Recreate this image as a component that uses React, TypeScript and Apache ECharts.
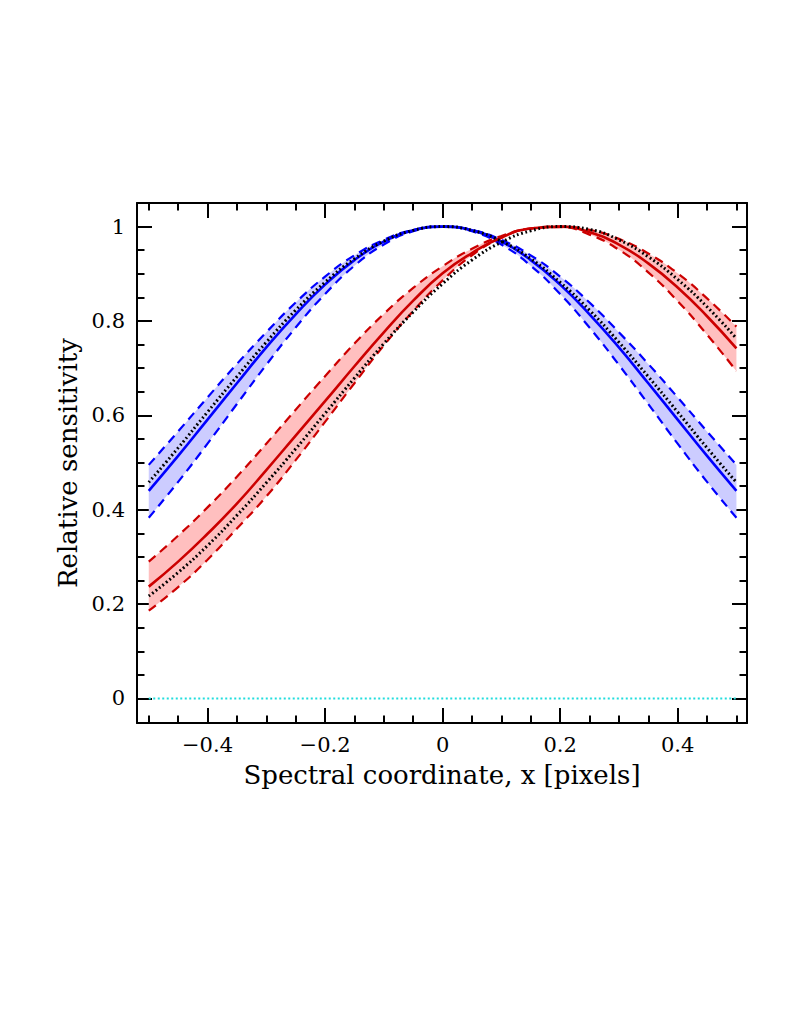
import React, { useEffect, useRef } from "react";
import * as echarts from "echarts";

// x positions of the samples (pixels)
const xs = [-0.5, -0.45, -0.4, -0.35, -0.3, -0.25, -0.2, -0.15, -0.1, -0.05, 0, 0.05, 0.1, 0.15, 0.2, 0.25, 0.3, 0.35, 0.4, 0.45, 0.5];

// Blue profile (centred at 0)
const blueMid = [0.440, 0.514, 0.591, 0.668, 0.744, 0.814, 0.877, 0.929, 0.968, 0.992, 1.000, 0.992, 0.968, 0.929, 0.877, 0.814, 0.744, 0.668, 0.591, 0.514, 0.440];
const blueHigh = [0.495, 0.566, 0.638, 0.709, 0.776, 0.839, 0.894, 0.939, 0.972, 0.993, 1.000, 0.993, 0.972, 0.939, 0.894, 0.839, 0.776, 0.709, 0.638, 0.566, 0.495];
const blueLow = [0.383, 0.459, 0.540, 0.624, 0.707, 0.786, 0.857, 0.917, 0.962, 0.990, 1.000, 0.990, 0.962, 0.917, 0.857, 0.786, 0.707, 0.624, 0.540, 0.459, 0.383];
const blueDotted = [0.458, 0.531, 0.607, 0.682, 0.755, 0.823, 0.882, 0.932, 0.969, 0.992, 1.000, 0.992, 0.969, 0.932, 0.882, 0.823, 0.755, 0.682, 0.607, 0.531, 0.458];

// Red profile (centred near 0.19)
const redMid = [0.237, 0.290, 0.349, 0.413, 0.484, 0.557, 0.630, 0.704, 0.776, 0.843, 0.901, 0.944, 0.977, 0.996, 1.000, 0.988, 0.962, 0.922, 0.871, 0.810, 0.742];
const redHigh = [0.290, 0.345, 0.405, 0.470, 0.540, 0.612, 0.683, 0.752, 0.815, 0.870, 0.916, 0.953, 0.980, 0.996, 1.000, 0.993, 0.974, 0.943, 0.901, 0.848, 0.788];
const redLow = [0.186, 0.236, 0.294, 0.360, 0.428, 0.505, 0.586, 0.668, 0.748, 0.821, 0.886, 0.939, 0.976, 0.996, 0.999, 0.983, 0.951, 0.903, 0.842, 0.771, 0.694];
const redDotted = [0.217, 0.267, 0.324, 0.388, 0.457, 0.529, 0.604, 0.679, 0.752, 0.819, 0.879, 0.929, 0.967, 0.991, 1.000, 0.994, 0.972, 0.936, 0.888, 0.830, 0.763];

// zero reference line
const zeroLineX = [-0.5, 0.5];
const zeroLineY = [0, 0];

// ticks
const xMajorTicks = [-0.4, -0.2, 0, 0.2, 0.4];
const xMinorTicks = [-0.5, -0.45, -0.4, -0.35, -0.3, -0.25, -0.2, -0.15, -0.1, -0.05, 0, 0.05, 0.1, 0.15, 0.2, 0.25, 0.3, 0.35, 0.4, 0.45, 0.5];
const yMajorTicks = [0, 0.2, 0.4, 0.6, 0.8, 1];
const yMinorTicks = [0, 0.05, 0.1, 0.15, 0.2, 0.25, 0.3, 0.35, 0.4, 0.45, 0.5, 0.55, 0.6, 0.65, 0.7, 0.75, 0.8, 0.85, 0.9, 0.95, 1];

const X_MIN = -0.52;
const X_MAX = 0.518;
const Y_MIN = -0.052;
const Y_MAX = 1.05;

const FONT = "DejaVu Serif";
const BLUE = "#0000ff";
const RED = "#cc0000";
const BLUE_FILL = "#ccccff";
const RED_FILL = "#ffbfbf";

const fmt = (v: number) => (v < 0 ? "\u2212" + String(Math.abs(v)) : String(v));

const pairs = (ys: number[]) => xs.map((x, i) => [x, ys[i]]);
// for stacked series: y first, x second (stack must apply to y)
const pairsYX = (ys: number[]) => xs.map((x, i) => [ys[i], x]);

function axisX(position: "bottom" | "top", major: boolean, extra: any = {}) {
  return {
    type: "value",
    min: X_MIN,
    max: X_MAX,
    position,
    axisLine: { show: major, onZero: false, lineStyle: { color: "#000", width: 2 } },
    axisTick: {
      show: true,
      inside: true,
      length: major ? 15 : 7.5,
      customValues: major ? xMajorTicks : xMinorTicks,
      lineStyle: { color: "#000", width: 2 },
    },
    axisLabel: { show: false },
    splitLine: { show: false },
    ...extra,
  };
}

function axisY(position: "left" | "right", major: boolean, extra: any = {}) {
  return {
    type: "value",
    min: Y_MIN,
    max: Y_MAX,
    position,
    axisLine: { show: major, onZero: false, lineStyle: { color: "#000", width: 2 } },
    axisTick: {
      show: true,
      inside: true,
      length: major ? 15 : 7.5,
      customValues: major ? yMajorTicks : yMinorTicks,
      lineStyle: { color: "#000", width: 2 },
    },
    axisLabel: { show: false },
    splitLine: { show: false },
    ...extra,
  };
}

function lineSeries(name: string, ys: number[], color: string, width: number, type: any, z = 2) {
  return {
    name,
    type: "line",
    data: pairs(ys),
    xAxisIndex: 0,
    yAxisIndex: 0,
    smooth: true,
    symbol: "none",
    silent: true,
    z,
    lineStyle: { color, width, type, cap: "butt" },
  };
}

function bandSeries(stack: string, low: number[], high: number[], fill: string) {
  const diff = high.map((h, i) => h - low[i]);
  return [
    {
      name: stack + "-base",
      type: "line",
      stack,
      data: pairsYX(low),
      encode: { x: 1, y: 0 },
      xAxisIndex: 0,
      yAxisIndex: 0,
      smooth: true,
      symbol: "none",
      silent: true,
      z: 1,
      lineStyle: { opacity: 0, width: 0 },
    },
    {
      name: stack + "-band",
      type: "line",
      stack,
      data: pairsYX(diff),
      encode: { x: 1, y: 0 },
      xAxisIndex: 0,
      yAxisIndex: 0,
      smooth: true,
      symbol: "none",
      silent: true,
      z: 1,
      lineStyle: { opacity: 0, width: 0 },
      areaStyle: { color: fill, opacity: 1 },
    },
  ];
}

export default function App() {
  const ref = useRef<HTMLDivElement>(null);

  useEffect(() => {
    if (!ref.current) return;
    const chart = echarts.init(ref.current, undefined, { renderer: "svg" });
    const dash = [9, 6];
    const dots = [1.8, 2.6];
    const option: any = {
      animation: false,
      backgroundColor: "#ffffff",
      grid: { left: 137, right: 42, top: 203, bottom: 298, containLabel: false },
      xAxis: [
        axisX("bottom", true, {
          axisLabel: {
            show: true,
            customValues: xMajorTicks,
            formatter: fmt,
            margin: 11,
            color: "#000",
            fontFamily: FONT,
            fontSize: 21,
          },
          name: "Spectral coordinate, x [pixels]",
          nameLocation: "middle",
          nameGap: 39,
          nameTextStyle: { color: "#000", fontFamily: FONT, fontSize: 26 },
        }),
        axisX("bottom", false),
        axisX("top", true),
        axisX("top", false),
      ],
      yAxis: [
        axisY("left", true, {
          axisLabel: {
            show: true,
            customValues: yMajorTicks,
            formatter: fmt,
            margin: 12,
            color: "#000",
            fontFamily: FONT,
            fontSize: 21,
          },
          name: "Relative sensitivity",
          nameLocation: "middle",
          nameGap: 54,
          nameTextStyle: { color: "#000", fontFamily: FONT, fontSize: 26 },
        }),
        axisY("left", false),
        axisY("right", true),
        axisY("right", false),
      ],
      series: [
        ...bandSeries("blueBand", blueLow, blueHigh, BLUE_FILL),
        ...bandSeries("redBand", redLow, redHigh, RED_FILL),
        {
          name: "zero",
          type: "line",
          data: zeroLineX.map((x, i) => [x, zeroLineY[i]]),
          symbol: "none",
          silent: true,
          z: 2,
          lineStyle: { color: "#22dddd", width: 2, type: [2, 2.5] },
        },
        lineSeries("blueHigh", blueHigh, BLUE, 2.2, dash),
        lineSeries("blueLow", blueLow, BLUE, 2.2, dash),
        lineSeries("blueMid", blueMid, BLUE, 2.6, "solid"),
        lineSeries("redHigh", redHigh, RED, 2.2, dash),
        lineSeries("redLow", redLow, RED, 2.2, dash),
        lineSeries("redMid", redMid, RED, 2.6, "solid"),
        lineSeries("blueDotted", blueDotted, "#000", 3, dots, 3),
        lineSeries("redDotted", redDotted, "#000", 3, dots, 3),
      ],
    };
    chart.setOption(option);
    return () => chart.dispose();
  }, []);

  return (
    <div
      ref={ref}
      style={{ position: "absolute", left: 0, top: 0, width: 789, height: 1021 }}
    />
  );
}
